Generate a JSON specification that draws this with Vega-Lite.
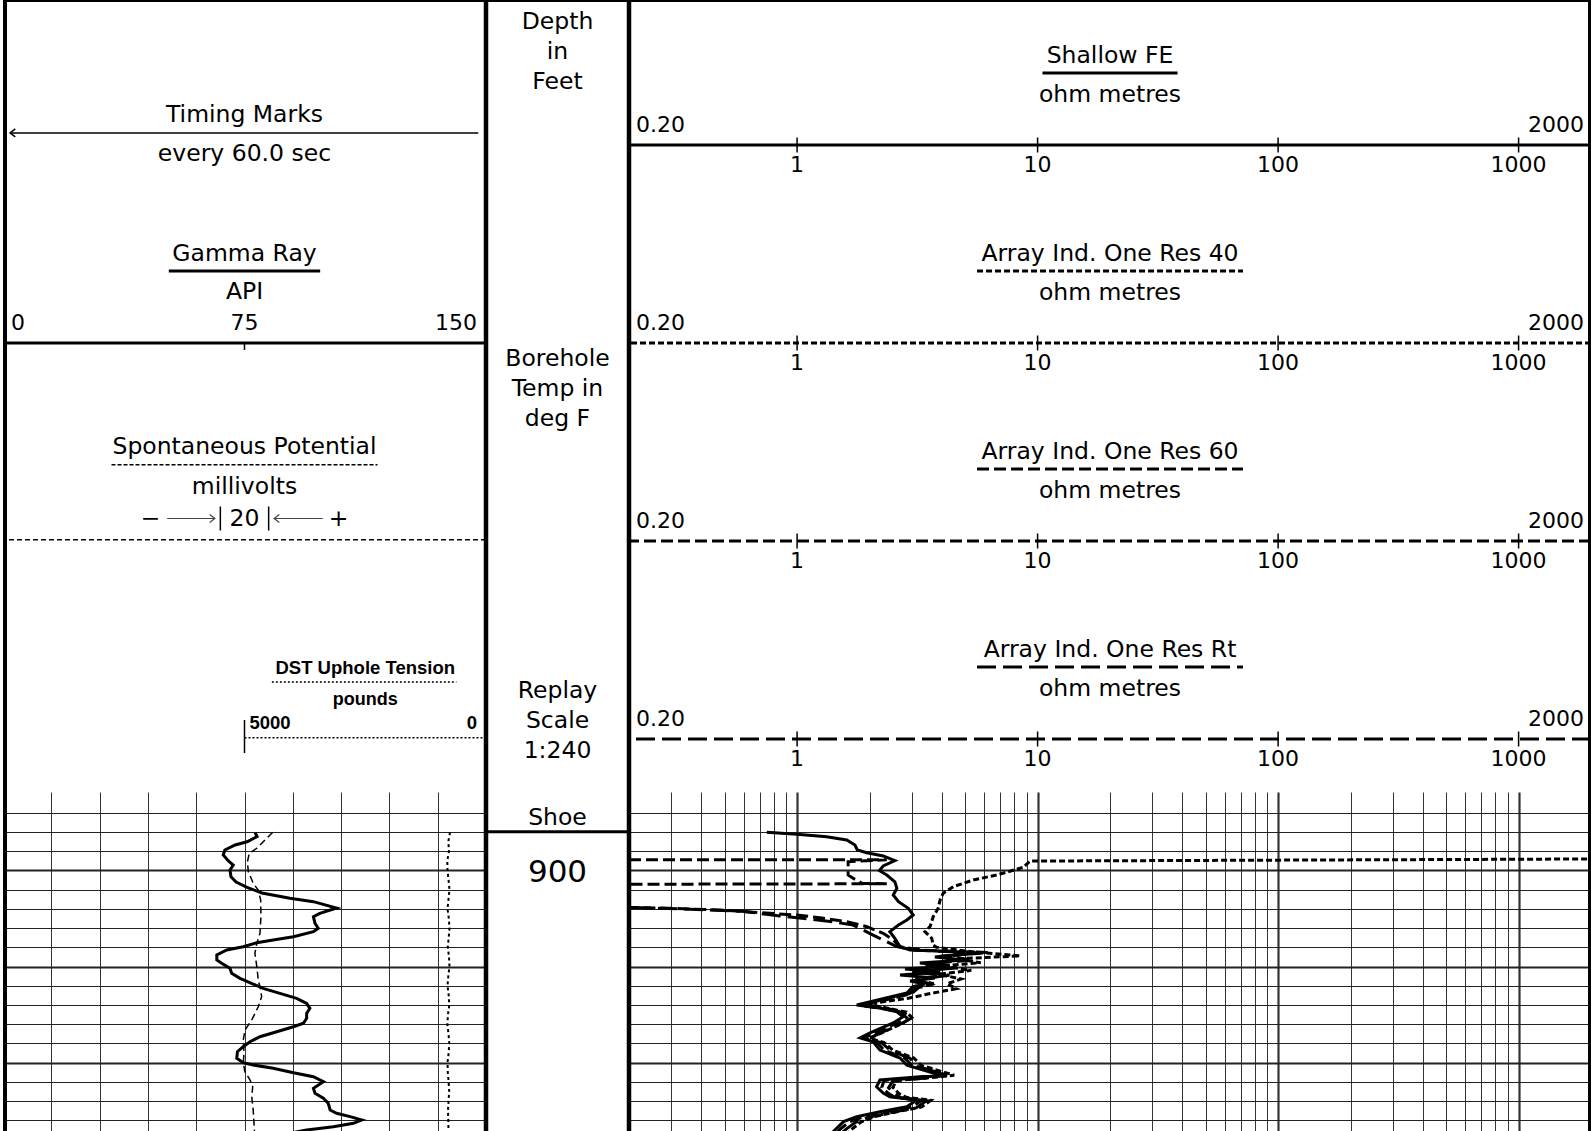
{
"$schema":"https://vega.github.io/schema/vega-lite/v6.json",
"padding":{"left":3,"top":0,"right":0,"bottom":0},
"background":"white",
"spacing":0,
"config":{
 "view":{"stroke":null},
 "concat":{"spacing":0},
 "axis":{"labels":false,"ticks":false,"domain":false,"minExtent":0,"maxExtent":0},
 "text":{"font":"DejaVu Sans","color":"black"},
 "rule":{"color":"black","clip":true},
 "line":{"color":"black"},
 "point":{"color":"black","opacity":1,"filled":false}
},
"datasets":{
 "gr":[{"depth":896.09,"api":78.3},{"depth":896.49,"api":78.9},{"depth":897.03,"api":75.8},{"depth":897.37,"api":72.1},{"depth":897.89,"api":68.9},{"depth":898.41,"api":68.4},{"depth":899.03,"api":70.0},{"depth":899.45,"api":71.5},{"depth":899.97,"api":70.5},{"depth":900.67,"api":70.8},{"depth":901.22,"api":72.4},{"depth":901.77,"api":75.8},{"depth":902.36,"api":80.4},{"depth":902.91,"api":89.1},{"depth":903.26,"api":96.4},{"depth":903.92,"api":103.6},{"depth":904.47,"api":98.4},{"depth":904.82,"api":96.4},{"depth":905.51,"api":96.9},{"depth":906.03,"api":97.9},{"depth":906.38,"api":96.4},{"depth":906.9,"api":90.2},{"depth":907.25,"api":83.9},{"depth":907.53,"api":78.8},{"depth":907.94,"api":74.6},{"depth":908.28,"api":69.5},{"depth":908.8,"api":66.4},{"depth":909.32,"api":66.4},{"depth":909.67,"api":67.9},{"depth":910.19,"api":70.5},{"depth":910.71,"api":71.0},{"depth":911.23,"api":73.6},{"depth":911.82,"api":77.7},{"depth":912.27,"api":80.8},{"depth":912.79,"api":86.0},{"depth":913.31,"api":91.2},{"depth":913.83,"api":94.3},{"depth":914.35,"api":95.3},{"depth":914.87,"api":94.3},{"depth":915.38,"api":94.3},{"depth":915.9,"api":93.3},{"depth":916.26,"api":90.2},{"depth":916.78,"api":85.0},{"depth":917.3,"api":79.8},{"depth":917.82,"api":76.7},{"depth":918.34,"api":74.6},{"depth":918.86,"api":72.8},{"depth":919.54,"api":72.6},{"depth":920.0,"api":74.6},{"depth":920.24,"api":77.7},{"depth":920.58,"api":83.9},{"depth":921.04,"api":90.2},{"depth":921.46,"api":96.4},{"depth":921.98,"api":99.5},{"depth":922.66,"api":96.4},{"depth":923.18,"api":96.9},{"depth":923.7,"api":99.5},{"depth":924.22,"api":101.0},{"depth":924.92,"api":101.6},{"depth":925.26,"api":103.6},{"depth":925.61,"api":107.8},{"depth":925.96,"api":111.4},{"depth":926.3,"api":108.8},{"depth":926.65,"api":102.6},{"depth":927.0,"api":94.3},{"depth":927.41,"api":87.6}],
 "sp":[{"depth":896.05,"mv":11.7},{"depth":896.85,"mv":8.5},{"depth":897.71,"mv":5.1},{"depth":898.23,"mv":2.0},{"depth":899.11,"mv":1.2},{"depth":900.15,"mv":1.6},{"depth":901.35,"mv":3.6},{"depth":902.05,"mv":5.7},{"depth":903.09,"mv":6.7},{"depth":904.82,"mv":6.8},{"depth":906.55,"mv":6.4},{"depth":907.59,"mv":5.1},{"depth":908.63,"mv":4.3},{"depth":910.02,"mv":5.1},{"depth":911.4,"mv":5.7},{"depth":912.44,"mv":6.7},{"depth":913.14,"mv":7.1},{"depth":914.18,"mv":5.7},{"depth":915.56,"mv":3.0},{"depth":916.6,"mv":0.2},{"depth":917.64,"mv":-0.5},{"depth":919.02,"mv":-0.2},{"depth":920.06,"mv":-0.5},{"depth":920.94,"mv":0.2},{"depth":921.8,"mv":2.3},{"depth":922.5,"mv":3.4},{"depth":923.54,"mv":3.0},{"depth":924.92,"mv":3.6},{"depth":927.0,"mv":4.1},{"depth":927.6,"mv":4.1}],
 "tens":[{"depth":896.05,"lbs":745},{"depth":897,"lbs":780},{"depth":898,"lbs":766},{"depth":899,"lbs":801},{"depth":900,"lbs":797},{"depth":901,"lbs":776},{"depth":902,"lbs":756},{"depth":903,"lbs":776},{"depth":904,"lbs":797},{"depth":905,"lbs":770},{"depth":906,"lbs":756},{"depth":907,"lbs":772},{"depth":908,"lbs":791},{"depth":909,"lbs":766},{"depth":910,"lbs":756},{"depth":911,"lbs":780},{"depth":912,"lbs":797},{"depth":913,"lbs":772},{"depth":914,"lbs":760},{"depth":915,"lbs":787},{"depth":916,"lbs":801},{"depth":917,"lbs":776},{"depth":918,"lbs":760},{"depth":919,"lbs":774},{"depth":920,"lbs":797},{"depth":921,"lbs":791},{"depth":922,"lbs":774},{"depth":923,"lbs":762},{"depth":924,"lbs":776},{"depth":925,"lbs":787},{"depth":926,"lbs":780},{"depth":927.5,"lbs":776}],
 "sfe":[{"depth":896.05,"ohmm":0.748},{"depth":896.26,"ohmm":0.996},{"depth":896.51,"ohmm":1.327},{"depth":896.85,"ohmm":1.608},{"depth":897.37,"ohmm":1.74},{"depth":897.89,"ohmm":1.78},{"depth":898.17,"ohmm":1.95},{"depth":898.51,"ohmm":2.28},{"depth":899.0,"ohmm":2.55},{"depth":899.55,"ohmm":2.28},{"depth":900.04,"ohmm":2.2},{"depth":900.49,"ohmm":2.36},{"depth":901.19,"ohmm":2.55},{"depth":901.87,"ohmm":2.6},{"depth":902.57,"ohmm":2.51},{"depth":903.26,"ohmm":2.64},{"depth":903.95,"ohmm":2.9},{"depth":904.65,"ohmm":3.04},{"depth":905.17,"ohmm":2.86},{"depth":905.69,"ohmm":2.64},{"depth":906.38,"ohmm":2.43},{"depth":907.07,"ohmm":2.55},{"depth":907.94,"ohmm":2.68},{"depth":908.28,"ohmm":2.95},{"depth":908.45,"ohmm":4.45},{"depth":908.6,"ohmm":5.49},{"depth":909.01,"ohmm":3.74},{"depth":909.32,"ohmm":4.99},{"depth":909.64,"ohmm":3.24},{"depth":909.95,"ohmm":4.32},{"depth":910.26,"ohmm":2.81},{"depth":910.57,"ohmm":3.93},{"depth":910.88,"ohmm":2.68},{"depth":911.19,"ohmm":3.74},{"depth":911.5,"ohmm":2.95},{"depth":911.82,"ohmm":3.4},{"depth":912.1,"ohmm":3.03},{"depth":912.75,"ohmm":2.86},{"depth":914.0,"ohmm":1.77},{"depth":914.31,"ohmm":2.21},{"depth":914.7,"ohmm":2.6},{"depth":915.22,"ohmm":2.76},{"depth":915.87,"ohmm":2.51},{"depth":916.91,"ohmm":2.01},{"depth":917.43,"ohmm":1.83},{"depth":917.82,"ohmm":2.07},{"depth":918.69,"ohmm":2.21},{"depth":919.52,"ohmm":2.68},{"depth":920.25,"ohmm":2.86},{"depth":921.29,"ohmm":3.93},{"depth":921.46,"ohmm":3.24},{"depth":921.8,"ohmm":2.21},{"depth":922.5,"ohmm":2.14},{"depth":923.15,"ohmm":2.28},{"depth":923.54,"ohmm":2.43},{"depth":923.88,"ohmm":3.14},{"depth":924.57,"ohmm":2.86},{"depth":925.09,"ohmm":2.21},{"depth":925.61,"ohmm":1.77},{"depth":926.13,"ohmm":1.56},{"depth":926.82,"ohmm":1.46},{"depth":927.5,"ohmm":1.37}],
 "r40":[{"depth":898.82,"ohmm":2100},{"depth":899.04,"ohmm":9.3},{"depth":899.69,"ohmm":8.72},{"depth":900.49,"ohmm":6.76},{"depth":901.01,"ohmm":5.4},{"depth":901.7,"ohmm":4.46},{"depth":902.39,"ohmm":4.05},{"depth":903.09,"ohmm":3.93},{"depth":903.95,"ohmm":3.86},{"depth":904.82,"ohmm":3.68},{"depth":905.86,"ohmm":3.57},{"depth":906.38,"ohmm":3.4},{"depth":907.07,"ohmm":3.63},{"depth":907.77,"ohmm":3.68},{"depth":908.0,"ohmm":3.8},{"depth":908.5,"ohmm":5.5},{"depth":908.9,"ohmm":8.45},{"depth":909.2,"ohmm":4.6},{"depth":909.6,"ohmm":5.8},{"depth":909.95,"ohmm":4.0},{"depth":910.4,"ohmm":5.3},{"depth":910.8,"ohmm":3.9},{"depth":911.3,"ohmm":4.8},{"depth":911.8,"ohmm":4.2},{"depth":912.3,"ohmm":4.6},{"depth":912.8,"ohmm":3.6},{"depth":913.3,"ohmm":2.9},{"depth":913.9,"ohmm":1.95},{"depth":914.35,"ohmm":2.4},{"depth":914.75,"ohmm":2.85},{"depth":915.3,"ohmm":3.0},{"depth":915.9,"ohmm":2.75},{"depth":916.9,"ohmm":2.25},{"depth":917.45,"ohmm":2.0},{"depth":917.9,"ohmm":2.3},{"depth":918.7,"ohmm":2.5},{"depth":919.5,"ohmm":3.05},{"depth":920.3,"ohmm":3.3},{"depth":921.3,"ohmm":4.5},{"depth":921.5,"ohmm":3.8},{"depth":921.85,"ohmm":2.6},{"depth":922.55,"ohmm":2.5},{"depth":923.2,"ohmm":2.65},{"depth":923.6,"ohmm":2.85},{"depth":923.9,"ohmm":3.6},{"depth":924.6,"ohmm":3.3},{"depth":925.1,"ohmm":2.6},{"depth":925.6,"ohmm":2.1},{"depth":926.15,"ohmm":1.85},{"depth":926.85,"ohmm":1.7},{"depth":927.5,"ohmm":1.6}],
 "r60":[{"depth":898.9,"ohmm":0.2},{"depth":898.9,"ohmm":2.36},{"depth":899.11,"ohmm":1.63},{"depth":900.49,"ohmm":1.63},{"depth":900.83,"ohmm":1.71},{"depth":901.35,"ohmm":1.86},{"depth":901.4,"ohmm":2.36},{"depth":901.45,"ohmm":0.2},{"depth":903.85,"ohmm":0.2},{"depth":903.95,"ohmm":0.296},{"depth":904.13,"ohmm":0.478},{"depth":904.47,"ohmm":0.772},{"depth":904.65,"ohmm":0.996},{"depth":904.93,"ohmm":1.245},{"depth":905.34,"ohmm":1.608},{"depth":905.86,"ohmm":1.95},{"depth":906.55,"ohmm":2.28},{"depth":907.24,"ohmm":2.51},{"depth":907.94,"ohmm":2.68},{"depth":908.3,"ohmm":3.3},{"depth":908.55,"ohmm":6.2},{"depth":908.9,"ohmm":4.1},{"depth":909.3,"ohmm":5.3},{"depth":909.7,"ohmm":3.5},{"depth":910.1,"ohmm":4.6},{"depth":910.5,"ohmm":3.2},{"depth":910.9,"ohmm":4.3},{"depth":911.3,"ohmm":3.1},{"depth":911.8,"ohmm":3.7},{"depth":912.2,"ohmm":3.2},{"depth":912.8,"ohmm":3.0},{"depth":913.4,"ohmm":2.4},{"depth":914.05,"ohmm":1.85},{"depth":914.4,"ohmm":2.3},{"depth":914.8,"ohmm":2.7},{"depth":915.3,"ohmm":2.85},{"depth":915.9,"ohmm":2.6},{"depth":916.9,"ohmm":2.1},{"depth":917.45,"ohmm":1.9},{"depth":917.9,"ohmm":2.15},{"depth":918.7,"ohmm":2.3},{"depth":919.5,"ohmm":2.8},{"depth":920.3,"ohmm":3.0},{"depth":921.25,"ohmm":4.1},{"depth":921.5,"ohmm":3.4},{"depth":921.85,"ohmm":2.3},{"depth":922.55,"ohmm":2.25},{"depth":923.2,"ohmm":2.4},{"depth":923.6,"ohmm":2.55},{"depth":923.9,"ohmm":3.3},{"depth":924.6,"ohmm":3.0},{"depth":925.1,"ohmm":2.35},{"depth":925.6,"ohmm":1.9},{"depth":926.15,"ohmm":1.65},{"depth":926.85,"ohmm":1.52},{"depth":927.5,"ohmm":1.43}],
 "rt":[{"depth":896.05,"ohmm":0.2},{"depth":903.85,"ohmm":0.2},{"depth":904.0,"ohmm":0.326},{"depth":904.28,"ohmm":0.607},{"depth":904.75,"ohmm":0.849},{"depth":905.03,"ohmm":1.096},{"depth":905.37,"ohmm":1.414},{"depth":905.69,"ohmm":1.71},{"depth":906.73,"ohmm":2.07},{"depth":907.42,"ohmm":2.36},{"depth":907.94,"ohmm":2.6},{"depth":908.3,"ohmm":3.1},{"depth":908.6,"ohmm":5.8},{"depth":908.95,"ohmm":3.9},{"depth":909.35,"ohmm":5.1},{"depth":909.75,"ohmm":3.4},{"depth":910.15,"ohmm":4.5},{"depth":910.55,"ohmm":3.0},{"depth":910.95,"ohmm":4.1},{"depth":911.4,"ohmm":3.2},{"depth":911.85,"ohmm":3.6},{"depth":912.3,"ohmm":3.1},{"depth":912.8,"ohmm":2.95},{"depth":913.5,"ohmm":2.2},{"depth":914.1,"ohmm":1.95},{"depth":914.45,"ohmm":2.45},{"depth":914.85,"ohmm":2.8},{"depth":915.35,"ohmm":3.0},{"depth":915.95,"ohmm":2.7},{"depth":916.95,"ohmm":2.2},{"depth":917.5,"ohmm":1.98},{"depth":917.95,"ohmm":2.25},{"depth":918.75,"ohmm":2.45},{"depth":919.55,"ohmm":2.95},{"depth":920.35,"ohmm":3.15},{"depth":921.3,"ohmm":4.2},{"depth":921.55,"ohmm":3.6},{"depth":921.9,"ohmm":2.5},{"depth":922.6,"ohmm":2.4},{"depth":923.25,"ohmm":2.55},{"depth":923.65,"ohmm":2.7},{"depth":923.95,"ohmm":3.45},{"depth":924.65,"ohmm":3.15},{"depth":925.15,"ohmm":2.5},{"depth":925.65,"ohmm":2.0},{"depth":926.2,"ohmm":1.75},{"depth":926.9,"ohmm":1.6},{"depth":927.5,"ohmm":1.5}],
 "resHead":[{"row":1,"curve":"SFE","title":"Shallow FE","unit":"ohm metres","lo":0.2,"hi":2000},{"row":2,"curve":"R40","title":"Array Ind. One Res 40","unit":"ohm metres","lo":0.2,"hi":2000},{"row":3,"curve":"R60","title":"Array Ind. One Res 60","unit":"ohm metres","lo":0.2,"hi":2000},{"row":4,"curve":"RT","title":"Array Ind. One Res Rt","unit":"ohm metres","lo":0.2,"hi":2000}],
 "resTicks":[{"row":1,"ohmm":1},{"row":1,"ohmm":10},{"row":1,"ohmm":100},{"row":1,"ohmm":1000},{"row":2,"ohmm":1},{"row":2,"ohmm":10},{"row":2,"ohmm":100},{"row":2,"ohmm":1000},{"row":3,"ohmm":1},{"row":3,"ohmm":10},{"row":3,"ohmm":100},{"row":3,"ohmm":1000},{"row":4,"ohmm":1},{"row":4,"ohmm":10},{"row":4,"ohmm":100},{"row":4,"ohmm":1000}]
},
"vconcat":[
{"spacing":0,"bounds":"flush","hconcat":[
 {"width":483,"height":792,"layer":[
  {"data":{"values":[{"row":1}]},"mark":{"type":"rule","clip":true,"strokeWidth":4},"encoding":{"y":{"field":"row","type":"ordinal","scale":{"type":"band","domain":[1,2,3,4],"paddingInner":0,"paddingOuter":0},"axis":null,"bandPosition":0}}},
  {"data":{"values":[{"row":1}]},"mark":{"type":"rule","clip":true,"strokeWidth":8},"encoding":{"x":{"datum":0,"type":"quantitative","scale":{"domain":[0,150],"nice":false,"zero":false},"axis":null}}},
  {"data":{"values":[{"row":1}]},"mark":{"type":"rule","clip":true,"strokeWidth":4.5},"encoding":{"x":{"datum":150,"type":"quantitative","axis":null}}},
  {"data":{"values":[{"row":1,"t":"Timing Marks"}]},"mark":{"type":"text","fontSize":23.5},"encoding":{"x":{"datum":75,"type":"quantitative","axis":null},"y":{"field":"row","type":"ordinal","axis":null,"bandPosition":0.5793},"text":{"field":"t"}}},
  {"data":{"values":[{"row":1}]},"mark":{"type":"rule","clip":true,"strokeWidth":1.5},"encoding":{"x":{"datum":2.2,"type":"quantitative","axis":null},"x2":{"datum":147.6},"y":{"field":"row","type":"ordinal","axis":null,"bandPosition":0.6712}}},
  {"data":{"values":[{"row":1}]},"mark":{"type":"point","shape":"M1.3,-1L0,0L1.3,1","size":64,"stroke":"black","strokeWidth":1.5},"encoding":{"x":{"datum":2.2,"type":"quantitative","axis":null},"y":{"field":"row","type":"ordinal","axis":null,"bandPosition":0.6712}}},
  {"data":{"values":[{"row":1,"t":"every 60.0 sec"}]},"mark":{"type":"text","fontSize":23.5},"encoding":{"x":{"datum":75,"type":"quantitative","axis":null},"y":{"field":"row","type":"ordinal","axis":null,"bandPosition":0.7788},"text":{"field":"t"}}},
  {"data":{"values":[{"row":2,"t":"Gamma Ray"}]},"mark":{"type":"text","fontSize":23.5},"encoding":{"x":{"datum":75,"type":"quantitative","axis":null},"y":{"field":"row","type":"ordinal","axis":null,"bandPosition":0.2813},"text":{"field":"t"}}},
  {"data":{"values":[{"row":2}]},"mark":{"type":"rule","clip":true,"strokeWidth":3},"encoding":{"x":{"datum":51.5,"type":"quantitative","axis":null},"x2":{"datum":98.5},"y":{"field":"row","type":"ordinal","axis":null,"bandPosition":0.3682}}},
  {"data":{"values":[{"row":2,"t":"API"}]},"mark":{"type":"text","fontSize":23.5},"encoding":{"x":{"datum":75,"type":"quantitative","axis":null},"y":{"field":"row","type":"ordinal","axis":null,"bandPosition":0.4758},"text":{"field":"t"}}},
  {"data":{"values":[{"row":2,"api":0}]},"mark":{"type":"text","fontSize":22,"align":"left","dx":8},"encoding":{"x":{"field":"api","type":"quantitative","axis":null},"y":{"field":"row","type":"ordinal","axis":null,"bandPosition":0.6298},"text":{"field":"api","format":"d"}}},
  {"data":{"values":[{"row":2,"api":75}]},"mark":{"type":"text","fontSize":22},"encoding":{"x":{"field":"api","type":"quantitative","axis":null},"y":{"field":"row","type":"ordinal","axis":null,"bandPosition":0.6298},"text":{"field":"api","format":"d"}}},
  {"data":{"values":[{"row":2,"api":150}]},"mark":{"type":"text","fontSize":22,"align":"right","dx":-9},"encoding":{"x":{"field":"api","type":"quantitative","axis":null},"y":{"field":"row","type":"ordinal","axis":null,"bandPosition":0.6298},"text":{"field":"api","format":"d"}}},
  {"data":{"values":[{"row":2}]},"mark":{"type":"rule","clip":true,"strokeWidth":3},"encoding":{"y":{"field":"row","type":"ordinal","axis":null,"bandPosition":0.7323}}},
  {"data":{"values":[{"row":2}]},"mark":{"type":"point","shape":"M0,0L0,1","size":196,"stroke":"black","strokeWidth":1.5},"encoding":{"x":{"datum":75,"type":"quantitative","axis":null},"y":{"field":"row","type":"ordinal","axis":null,"bandPosition":0.7323}}},
  {"data":{"values":[{"row":3,"t":"Spontaneous Potential"}]},"mark":{"type":"text","fontSize":23.5},"encoding":{"x":{"datum":75,"type":"quantitative","axis":null},"y":{"field":"row","type":"ordinal","axis":null,"bandPosition":0.2601},"text":{"field":"t"}}},
  {"data":{"values":[{"row":3}]},"mark":{"type":"rule","clip":true,"strokeWidth":1.5,"strokeDash":[4,2]},"encoding":{"x":{"datum":33.7,"type":"quantitative","axis":null},"x2":{"datum":116.3},"y":{"field":"row","type":"ordinal","axis":null,"bandPosition":0.347}}},
  {"data":{"values":[{"row":3,"t":"millivolts"}]},"mark":{"type":"text","fontSize":23.5},"encoding":{"x":{"datum":75,"type":"quantitative","axis":null},"y":{"field":"row","type":"ordinal","axis":null,"bandPosition":0.4596},"text":{"field":"t"}}},
  {"data":{"values":[{"row":3,"t":"−"}]},"mark":{"type":"text","fontSize":23.5},"encoding":{"x":{"datum":45.8,"type":"quantitative","axis":null},"y":{"field":"row","type":"ordinal","axis":null,"bandPosition":0.6187},"text":{"field":"t"}}},
  {"data":{"values":[{"row":3,"t":"20"}]},"mark":{"type":"text","fontSize":23.5},"encoding":{"x":{"datum":75,"type":"quantitative","axis":null},"y":{"field":"row","type":"ordinal","axis":null,"bandPosition":0.6187},"text":{"field":"t"}}},
  {"data":{"values":[{"row":3,"t":"+"}]},"mark":{"type":"text","fontSize":23.5},"encoding":{"x":{"datum":104.2,"type":"quantitative","axis":null},"y":{"field":"row","type":"ordinal","axis":null,"bandPosition":0.6187},"text":{"field":"t"}}},
  {"data":{"values":[{"row":3}]},"mark":{"type":"point","shape":"M0,-1L0,1","size":576,"stroke":"black","strokeWidth":1.5},"encoding":{"x":{"datum":67.5,"type":"quantitative","axis":null},"y":{"field":"row","type":"ordinal","axis":null,"bandPosition":0.6187}}},
  {"data":{"values":[{"row":3}]},"mark":{"type":"point","shape":"M0,-1L0,1","size":576,"stroke":"black","strokeWidth":1.5},"encoding":{"x":{"datum":82.5,"type":"quantitative","axis":null},"y":{"field":"row","type":"ordinal","axis":null,"bandPosition":0.6187}}},
  {"data":{"values":[{"row":3}]},"mark":{"type":"rule","clip":true,"strokeWidth":1.2,"color":"#444"},"encoding":{"x":{"datum":51,"type":"quantitative","axis":null},"x2":{"datum":65.6},"y":{"field":"row","type":"ordinal","axis":null,"bandPosition":0.6187}}},
  {"data":{"values":[{"row":3}]},"mark":{"type":"rule","clip":true,"strokeWidth":1.2,"color":"#444"},"encoding":{"x":{"datum":84.4,"type":"quantitative","axis":null},"x2":{"datum":99.3},"y":{"field":"row","type":"ordinal","axis":null,"bandPosition":0.6187}}},
  {"data":{"values":[{"row":3}]},"mark":{"type":"point","shape":"M-1.3,-1L0,0L-1.3,1","size":64,"stroke":"#444","strokeWidth":1.2},"encoding":{"x":{"datum":65.8,"type":"quantitative","axis":null},"y":{"field":"row","type":"ordinal","axis":null,"bandPosition":0.6187}}},
  {"data":{"values":[{"row":3}]},"mark":{"type":"point","shape":"M1.3,-1L0,0L1.3,1","size":64,"stroke":"#444","strokeWidth":1.2},"encoding":{"x":{"datum":84.2,"type":"quantitative","axis":null},"y":{"field":"row","type":"ordinal","axis":null,"bandPosition":0.6187}}},
  {"data":{"values":[{"row":3}]},"mark":{"type":"rule","clip":true,"strokeWidth":1.5,"strokeDash":[5,3]},"encoding":{"y":{"field":"row","type":"ordinal","axis":null,"bandPosition":0.7263}}},
  {"data":{"values":[{"row":4,"t":"DST Uphole Tension"}]},"mark":{"type":"text","font":"Liberation Sans","fontSize":18.5,"fontWeight":"bold"},"encoding":{"x":{"datum":112.5,"type":"quantitative","axis":null},"y":{"field":"row","type":"ordinal","axis":null,"bandPosition":0.3722},"text":{"field":"t"}}},
  {"data":{"values":[{"row":4}]},"mark":{"type":"rule","clip":true,"strokeWidth":1.5,"strokeDash":[2,2]},"encoding":{"x":{"datum":83.5,"type":"quantitative","axis":null},"x2":{"datum":140.8},"y":{"field":"row","type":"ordinal","axis":null,"bandPosition":0.4439}}},
  {"data":{"values":[{"row":4,"t":"pounds"}]},"mark":{"type":"text","font":"Liberation Sans","fontSize":18,"fontWeight":"bold"},"encoding":{"x":{"datum":112.5,"type":"quantitative","axis":null},"y":{"field":"row","type":"ordinal","axis":null,"bandPosition":0.5364},"text":{"field":"t"}}},
  {"data":{"values":[{"row":4,"lbs":5000}]},"mark":{"type":"text","font":"Liberation Sans","fontSize":18.5,"fontWeight":"bold","align":"left","dx":5},"encoding":{"x":{"datum":75,"type":"quantitative","axis":null},"y":{"field":"row","type":"ordinal","axis":null,"bandPosition":0.649},"text":{"field":"lbs","format":"d"}}},
  {"data":{"values":[{"row":4,"lbs":0}]},"mark":{"type":"text","font":"Liberation Sans","fontSize":18.5,"fontWeight":"bold","align":"right","dx":-9},"encoding":{"x":{"datum":150,"type":"quantitative","axis":null},"y":{"field":"row","type":"ordinal","axis":null,"bandPosition":0.649},"text":{"field":"lbs","format":"d"}}},
  {"data":{"values":[{"row":4}]},"mark":{"type":"rule","clip":true,"strokeWidth":1.5,"strokeDash":[2,2]},"encoding":{"x":{"datum":75,"type":"quantitative","axis":null},"x2":{"datum":150},"y":{"field":"row","type":"ordinal","axis":null,"bandPosition":0.7258}}},
  {"data":{"values":[{"row":4}]},"mark":{"type":"point","shape":"M0,-1L0,1","size":1089,"stroke":"black","strokeWidth":1.5},"encoding":{"x":{"datum":75,"type":"quantitative","axis":null},"y":{"field":"row","type":"ordinal","axis":null,"bandPosition":0.7197}}}
 ]},
 {"width":143,"height":792,"layer":[
  {"data":{"values":[{"row":1}]},"mark":{"type":"rule","clip":true,"strokeWidth":4},"encoding":{"y":{"field":"row","type":"ordinal","scale":{"type":"band","domain":[1,2,3,4],"paddingInner":0,"paddingOuter":0},"axis":null,"bandPosition":0}}},
  {"data":{"values":[{"row":1}]},"mark":{"type":"rule","clip":true,"strokeWidth":4.5},"encoding":{"x":{"datum":0,"type":"quantitative","scale":{"domain":[0,1]},"axis":null}}},
  {"data":{"values":[{"row":1}]},"mark":{"type":"rule","clip":true,"strokeWidth":4.5},"encoding":{"x":{"datum":1,"type":"quantitative","axis":null}}},
  {"data":{"values":[{"row":1,"t":"Depth\nin\nFeet"}]},"mark":{"type":"text","fontSize":23.5,"lineBreak":"\n","lineHeight":30},"encoding":{"x":{"datum":0.5,"type":"quantitative","axis":null},"y":{"field":"row","type":"ordinal","axis":null,"bandPosition":0.1126},"text":{"field":"t"}}},
  {"data":{"values":[{"row":2,"t":"Borehole\nTemp in\ndeg F"}]},"mark":{"type":"text","fontSize":23.5,"lineBreak":"\n","lineHeight":30},"encoding":{"x":{"datum":0.5,"type":"quantitative","axis":null},"y":{"field":"row","type":"ordinal","axis":null,"bandPosition":0.8141},"text":{"field":"t"}}},
  {"data":{"values":[{"row":4,"t":"Replay\nScale\n1:240"}]},"mark":{"type":"text","fontSize":23.5,"lineBreak":"\n","lineHeight":30},"encoding":{"x":{"datum":0.5,"type":"quantitative","axis":null},"y":{"field":"row","type":"ordinal","axis":null,"bandPosition":0.4899},"text":{"field":"t"}}}
 ]},
 {"width":962,"height":792,"layer":[
  {"data":{"values":[{"row":1}]},"mark":{"type":"rule","clip":true,"strokeWidth":4},"encoding":{"y":{"field":"row","type":"ordinal","scale":{"type":"band","domain":[1,2,3,4],"paddingInner":0,"paddingOuter":0},"axis":null,"bandPosition":0}}},
  {"data":{"values":[{"row":1}]},"mark":{"type":"rule","clip":true,"strokeWidth":6},"encoding":{"x":{"datum":2000,"type":"quantitative","scale":{"type":"log","domain":[0.2,2000],"nice":false},"axis":null}}},
  {"data":{"values":[{"row":1}]},"mark":{"type":"rule","clip":true,"strokeWidth":4.5},"encoding":{"x":{"datum":0.2,"type":"quantitative","axis":null}}},
  {"data":{"name":"resHead"},"mark":{"type":"text","fontSize":23.5},"encoding":{"x":{"datum":20,"type":"quantitative","axis":null},"y":{"field":"row","type":"ordinal","axis":null,"bandPosition":0.2813},"text":{"field":"title"}}},
  {"data":{"name":"resHead"},"mark":{"type":"text","fontSize":23.5},"encoding":{"x":{"datum":20,"type":"quantitative","axis":null},"y":{"field":"row","type":"ordinal","axis":null,"bandPosition":0.4783},"text":{"field":"unit"}}},
  {"data":{"name":"resHead"},"mark":{"type":"text","fontSize":22,"align":"left","dx":7},"encoding":{"x":{"field":"lo","type":"quantitative","axis":null},"y":{"field":"row","type":"ordinal","axis":null,"bandPosition":0.6298},"text":{"field":"lo","format":".2f"}}},
  {"data":{"name":"resHead"},"mark":{"type":"text","fontSize":22,"align":"right","dx":-7},"encoding":{"x":{"field":"hi","type":"quantitative","axis":null},"y":{"field":"row","type":"ordinal","axis":null,"bandPosition":0.6298},"text":{"field":"hi","format":"d"}}},
  {"data":{"name":"resHead"},"transform":[{"filter":"datum.row == 1"}],"mark":{"type":"rule","clip":true,"strokeWidth":3},"encoding":{"y":{"field":"row","type":"ordinal","axis":null,"bandPosition":0.7323}}},
  {"data":{"name":"resHead"},"transform":[{"filter":"datum.row == 2"}],"mark":{"type":"rule","clip":true,"strokeWidth":3,"strokeDash":[6,3]},"encoding":{"y":{"field":"row","type":"ordinal","axis":null,"bandPosition":0.7323}}},
  {"data":{"name":"resHead"},"transform":[{"filter":"datum.row == 3"}],"mark":{"type":"rule","clip":true,"strokeWidth":3,"strokeDash":[12,5]},"encoding":{"y":{"field":"row","type":"ordinal","axis":null,"bandPosition":0.7323}}},
  {"data":{"name":"resHead"},"transform":[{"filter":"datum.row == 4"}],"mark":{"type":"rule","clip":true,"strokeWidth":3,"strokeDash":[19,7]},"encoding":{"y":{"field":"row","type":"ordinal","axis":null,"bandPosition":0.7323}}},
  {"data":{"name":"resHead"},"transform":[{"filter":"datum.row == 1"}],"mark":{"type":"rule","clip":true,"strokeWidth":3},"encoding":{"x":{"datum":10.48,"type":"quantitative","axis":null},"x2":{"datum":38.18},"y":{"field":"row","type":"ordinal","axis":null,"bandPosition":0.3687}}},
  {"data":{"name":"resHead"},"transform":[{"filter":"datum.row == 2"}],"mark":{"type":"rule","clip":true,"strokeWidth":3,"strokeDash":[6,3]},"encoding":{"x":{"datum":5.6,"type":"quantitative","axis":null},"x2":{"datum":71.46},"y":{"field":"row","type":"ordinal","axis":null,"bandPosition":0.3687}}},
  {"data":{"name":"resHead"},"transform":[{"filter":"datum.row == 3"}],"mark":{"type":"rule","clip":true,"strokeWidth":3,"strokeDash":[12,5]},"encoding":{"x":{"datum":5.6,"type":"quantitative","axis":null},"x2":{"datum":71.46},"y":{"field":"row","type":"ordinal","axis":null,"bandPosition":0.3687}}},
  {"data":{"name":"resHead"},"transform":[{"filter":"datum.row == 4"}],"mark":{"type":"rule","clip":true,"strokeWidth":3,"strokeDash":[19,7]},"encoding":{"x":{"datum":5.6,"type":"quantitative","axis":null},"x2":{"datum":71.46},"y":{"field":"row","type":"ordinal","axis":null,"bandPosition":0.3687}}},
  {"data":{"name":"resTicks"},"mark":{"type":"point","shape":"M0,-1L0,1","size":225,"stroke":"black","strokeWidth":1.5},"encoding":{"x":{"field":"ohmm","type":"quantitative","axis":null},"y":{"field":"row","type":"ordinal","axis":null,"bandPosition":0.7323}}},
  {"data":{"name":"resTicks"},"mark":{"type":"text","fontSize":22},"encoding":{"x":{"field":"ohmm","type":"quantitative","axis":null},"y":{"field":"row","type":"ordinal","axis":null,"bandPosition":0.8348},"text":{"field":"ohmm","format":"d"}}}
 ]}
]},
{"spacing":0,"bounds":"flush","hconcat":[
 {"width":483,"height":339,"resolve":{"scale":{"x":"independent"}},"layer":[
  {"data":{"name":"gr"},"mark":{"type":"line","strokeWidth":3,"clip":true},"encoding":{
    "x":{"field":"api","type":"quantitative","scale":{"domain":[0,150],"nice":false,"zero":false},"axis":{"grid":true,"values":[15,30,45,60,75,90,105,120,135],"gridColor":"#333","gridWidth":1,"title":null}},
    "y":{"field":"depth","type":"quantitative","scale":{"domain":[891.86,927.1],"reverse":true,"nice":false,"zero":false},"axis":{"grid":true,"values":[894,896,898,900,902,904,906,908,910,912,914,916,918,920,922,924,926],"gridColor":"#222","gridWidth":{"condition":{"test":"datum.value % 10 === 0","value":2.2},"value":1},"title":null}},
    "order":{"field":"depth","type":"quantitative"}}},
  {"data":{"name":"sp"},"mark":{"type":"line","strokeWidth":1.5,"strokeDash":[7,4],"clip":true},"encoding":{
    "x":{"field":"mv","type":"quantitative","scale":{"domain":[-100,100],"nice":false,"zero":false},"axis":null},
    "y":{"field":"depth","type":"quantitative","scale":{"domain":[891.86,927.1],"reverse":true,"nice":false,"zero":false},"axis":{"grid":true,"values":[894,896,898,900,902,904,906,908,910,912,914,916,918,920,922,924,926],"gridColor":"#222","gridWidth":{"condition":{"test":"datum.value % 10 === 0","value":2.2},"value":1},"title":null}},
    "order":{"field":"depth","type":"quantitative"}}},
  {"data":{"name":"tens"},"mark":{"type":"line","strokeWidth":2,"strokeDash":[3,3],"clip":true},"encoding":{
    "x":{"field":"lbs","type":"quantitative","scale":{"domain":[0,10000],"reverse":true,"nice":false,"zero":false},"axis":null},
    "y":{"field":"depth","type":"quantitative","scale":{"domain":[891.86,927.1],"reverse":true,"nice":false,"zero":false},"axis":{"grid":true,"values":[894,896,898,900,902,904,906,908,910,912,914,916,918,920,922,924,926],"gridColor":"#222","gridWidth":{"condition":{"test":"datum.value % 10 === 0","value":2.2},"value":1},"title":null}},
    "order":{"field":"depth","type":"quantitative"}}},
  {"data":{"values":[{"row":1}]},"mark":{"type":"rule","clip":true,"strokeWidth":8},"encoding":{"x":{"datum":0,"type":"quantitative","scale":{"domain":[0,150],"nice":false,"zero":false},"axis":null}}},
  {"data":{"values":[{"row":1}]},"mark":{"type":"rule","clip":true,"strokeWidth":4.5},"encoding":{"x":{"datum":150,"type":"quantitative","scale":{"domain":[0,150],"nice":false,"zero":false},"axis":null}}}
 ]},
 {"width":143,"height":339,"layer":[
  {"data":{"values":[{"row":1}]},"mark":{"type":"rule","clip":true,"strokeWidth":4.5},"encoding":{"x":{"datum":0,"type":"quantitative","scale":{"domain":[0,1]},"axis":null}}},
  {"data":{"values":[{"row":1}]},"mark":{"type":"rule","clip":true,"strokeWidth":4.5},"encoding":{"x":{"datum":1,"type":"quantitative","axis":null}}},
  {"data":{"values":[{"depth":896,"label":"Shoe"}]},"mark":{"type":"rule","clip":true,"strokeWidth":3},"encoding":{"y":{"field":"depth","type":"quantitative","scale":{"domain":[891.86,927.1],"reverse":true,"nice":false,"zero":false},"axis":null}}},
  {"data":{"values":[{"depth":896,"label":"Shoe"}]},"mark":{"type":"text","fontSize":23.5,"baseline":"alphabetic","dy":-7},"encoding":{"x":{"datum":0.5,"type":"quantitative","axis":null},"y":{"field":"depth","type":"quantitative","axis":null},"text":{"field":"label"}}},
  {"data":{"values":[{"depth":900}]},"mark":{"type":"text","fontSize":31,"baseline":"alphabetic","dy":11.5},"encoding":{"x":{"datum":0.5,"type":"quantitative","axis":null},"y":{"field":"depth","type":"quantitative","axis":null},"text":{"field":"depth","format":"d"}}}
 ]},
 {"width":962,"height":339,"layer":[
  {"data":{"name":"sfe"},"mark":{"type":"line","strokeWidth":3,"clip":true},"encoding":{
    "x":{"field":"ohmm","type":"quantitative","scale":{"type":"log","domain":[0.2,2000],"nice":false},"axis":{"grid":true,"values":[0.3,0.4,0.5,0.6,0.7,0.8,0.9,1,2,3,4,5,6,7,8,9,10,20,30,40,50,60,70,80,90,100,200,300,400,500,600,700,800,900,1000],"gridColor":"#333","gridWidth":{"condition":{"test":"indexof([1,10,100,1000], datum.value) >= 0","value":2.2},"value":1},"title":null}},
    "y":{"field":"depth","type":"quantitative","scale":{"domain":[891.86,927.1],"reverse":true,"nice":false,"zero":false},"axis":{"grid":true,"values":[894,896,898,900,902,904,906,908,910,912,914,916,918,920,922,924,926],"gridColor":"#222","gridWidth":{"condition":{"test":"datum.value % 10 === 0","value":2.2},"value":1},"title":null}},
    "order":{"field":"depth","type":"quantitative"}}},
  {"data":{"name":"r40"},"mark":{"type":"line","strokeWidth":3,"strokeDash":[6,3],"clip":true},"encoding":{
    "x":{"field":"ohmm","type":"quantitative","scale":{"type":"log","domain":[0.2,2000],"nice":false},"axis":{"grid":true,"values":[0.3,0.4,0.5,0.6,0.7,0.8,0.9,1,2,3,4,5,6,7,8,9,10,20,30,40,50,60,70,80,90,100,200,300,400,500,600,700,800,900,1000],"gridColor":"#333","gridWidth":{"condition":{"test":"indexof([1,10,100,1000], datum.value) >= 0","value":2.2},"value":1},"title":null}},
    "y":{"field":"depth","type":"quantitative","scale":{"domain":[891.86,927.1],"reverse":true,"nice":false,"zero":false},"axis":{"grid":true,"values":[894,896,898,900,902,904,906,908,910,912,914,916,918,920,922,924,926],"gridColor":"#222","gridWidth":{"condition":{"test":"datum.value % 10 === 0","value":2.2},"value":1},"title":null}},
    "order":{"field":"depth","type":"quantitative"}}},
  {"data":{"name":"r60"},"mark":{"type":"line","strokeWidth":3,"strokeDash":[12,5],"clip":true},"encoding":{
    "x":{"field":"ohmm","type":"quantitative","scale":{"type":"log","domain":[0.2,2000],"nice":false},"axis":{"grid":true,"values":[0.3,0.4,0.5,0.6,0.7,0.8,0.9,1,2,3,4,5,6,7,8,9,10,20,30,40,50,60,70,80,90,100,200,300,400,500,600,700,800,900,1000],"gridColor":"#333","gridWidth":{"condition":{"test":"indexof([1,10,100,1000], datum.value) >= 0","value":2.2},"value":1},"title":null}},
    "y":{"field":"depth","type":"quantitative","scale":{"domain":[891.86,927.1],"reverse":true,"nice":false,"zero":false},"axis":{"grid":true,"values":[894,896,898,900,902,904,906,908,910,912,914,916,918,920,922,924,926],"gridColor":"#222","gridWidth":{"condition":{"test":"datum.value % 10 === 0","value":2.2},"value":1},"title":null}},
    "order":{"field":"depth","type":"quantitative"}}},
  {"data":{"name":"rt"},"mark":{"type":"line","strokeWidth":3,"strokeDash":[19,7],"clip":true},"encoding":{
    "x":{"field":"ohmm","type":"quantitative","scale":{"type":"log","domain":[0.2,2000],"nice":false},"axis":{"grid":true,"values":[0.3,0.4,0.5,0.6,0.7,0.8,0.9,1,2,3,4,5,6,7,8,9,10,20,30,40,50,60,70,80,90,100,200,300,400,500,600,700,800,900,1000],"gridColor":"#333","gridWidth":{"condition":{"test":"indexof([1,10,100,1000], datum.value) >= 0","value":2.2},"value":1},"title":null}},
    "y":{"field":"depth","type":"quantitative","scale":{"domain":[891.86,927.1],"reverse":true,"nice":false,"zero":false},"axis":{"grid":true,"values":[894,896,898,900,902,904,906,908,910,912,914,916,918,920,922,924,926],"gridColor":"#222","gridWidth":{"condition":{"test":"datum.value % 10 === 0","value":2.2},"value":1},"title":null}},
    "order":{"field":"depth","type":"quantitative"}}},
  {"data":{"values":[{"row":1}]},"mark":{"type":"rule","clip":true,"strokeWidth":4.5},"encoding":{"x":{"datum":0.2,"type":"quantitative","scale":{"type":"log","domain":[0.2,2000],"nice":false},"axis":{"grid":true,"values":[0.3,0.4,0.5,0.6,0.7,0.8,0.9,1,2,3,4,5,6,7,8,9,10,20,30,40,50,60,70,80,90,100,200,300,400,500,600,700,800,900,1000],"gridColor":"#333","gridWidth":{"condition":{"test":"indexof([1,10,100,1000], datum.value) >= 0","value":2.2},"value":1},"title":null}}}},
  {"data":{"values":[{"row":1}]},"mark":{"type":"rule","clip":true,"strokeWidth":6},"encoding":{"x":{"datum":2000,"type":"quantitative","scale":{"type":"log","domain":[0.2,2000],"nice":false},"axis":{"grid":true,"values":[0.3,0.4,0.5,0.6,0.7,0.8,0.9,1,2,3,4,5,6,7,8,9,10,20,30,40,50,60,70,80,90,100,200,300,400,500,600,700,800,900,1000],"gridColor":"#333","gridWidth":{"condition":{"test":"indexof([1,10,100,1000], datum.value) >= 0","value":2.2},"value":1},"title":null}}}}
 ]}
]}
]
}
